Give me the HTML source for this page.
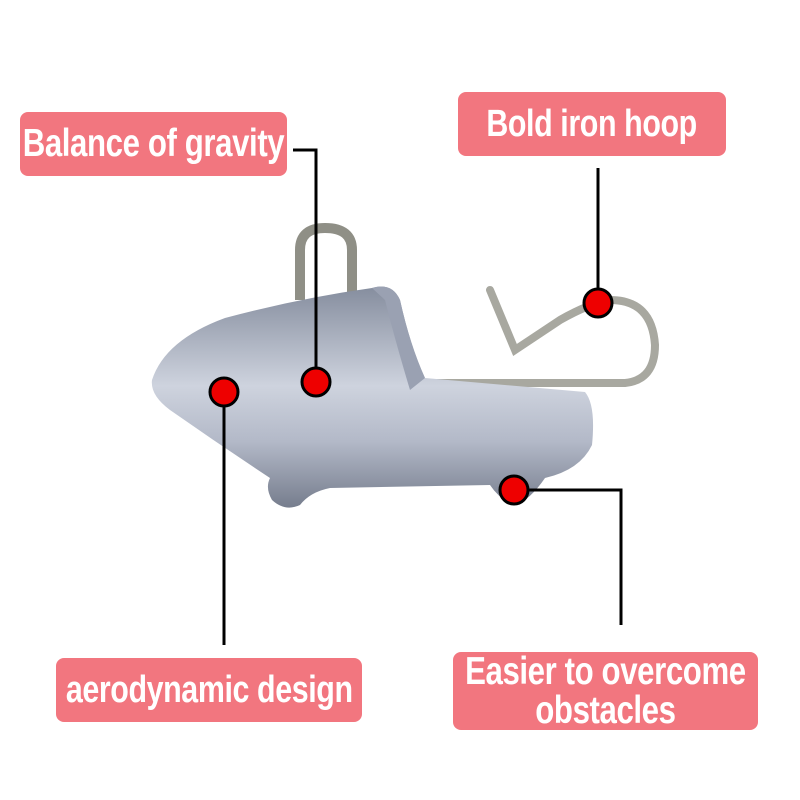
<!DOCTYPE html>
<html><head><style>
body{margin:0;width:800px;height:800px;background:#fff;overflow:hidden;position:relative;font-family:"Liberation Sans",sans-serif}
.b{position:absolute;background:#f2767f;border-radius:8px;color:#fff;font-weight:bold;display:flex;align-items:center;justify-content:center;text-align:center}
.b span{display:inline-block;transform:scaleX(0.8);white-space:nowrap;letter-spacing:-0.5px}
</style></head><body>
<svg width="800" height="800" style="position:absolute;left:0;top:0">
<defs>
<linearGradient id="g" x1="0" y1="0" x2="0" y2="1">
<stop offset="0" stop-color="#858d9e"/><stop offset="0.45" stop-color="#ced3de"/><stop offset="0.7" stop-color="#b3b9c8"/><stop offset="1" stop-color="#767d8d"/>
</linearGradient>
</defs>
<path d="M300 300 L300 250 Q300 228 325 228 Q352 228 352 250 L352 300" fill="none" stroke="#8f8f86" stroke-width="10"/>
<path d="M420 383 L625 383 Q655 380 655 345 Q652 300 610 300 Q590 303 560 320 L515 350 L490 290" fill="none" stroke="#a8a8a0" stroke-width="8" stroke-linecap="round"/>
<path d="M152 380 Q165 340 225 318 Q300 298 372 288 Q392 282 400 300 Q410 345 425 378 L585 392 Q596 405 592 445 Q580 470 545 478 Q530 500 515 505 Q500 500 490 485 L330 488 Q310 492 300 505 Q285 512 272 500 Q265 488 270 478 Q220 445 170 410 Q150 395 152 380Z" fill="url(#g)"/>
<path d="M372 288 Q392 282 400 300 Q410 345 425 378 L410 390 Q395 340 385 300Z" fill="#9aa1b2"/>
<g stroke="#000" stroke-width="3" fill="none">
<path d="M293 150 H316 V382"/>
<path d="M598 168 V303"/>
<path d="M224 392 V645"/>
<path d="M514 490 H621 V625"/>
</g>
<g fill="#ee0000" stroke="#000" stroke-width="3">
<circle cx="316" cy="382" r="14"/>
<circle cx="598" cy="303" r="14"/>
<circle cx="224" cy="392" r="14"/>
<circle cx="514" cy="490" r="14"/>
</g>
</svg>
<div class="b" style="left:20px;top:112px;width:267px;height:64px;font-size:39px"><span>Balance of gravity</span></div>
<div class="b" style="left:458px;top:92px;width:268px;height:64px;font-size:38px"><span>Bold iron hoop</span></div>
<div class="b" style="left:56px;top:658px;width:306px;height:64px;font-size:38px"><span>aerodynamic design</span></div>
<div class="b" style="left:453px;top:652px;width:305px;height:78px;font-size:39px;line-height:39px"><span>Easier to overcome<br>obstacles</span></div>
</body></html>
